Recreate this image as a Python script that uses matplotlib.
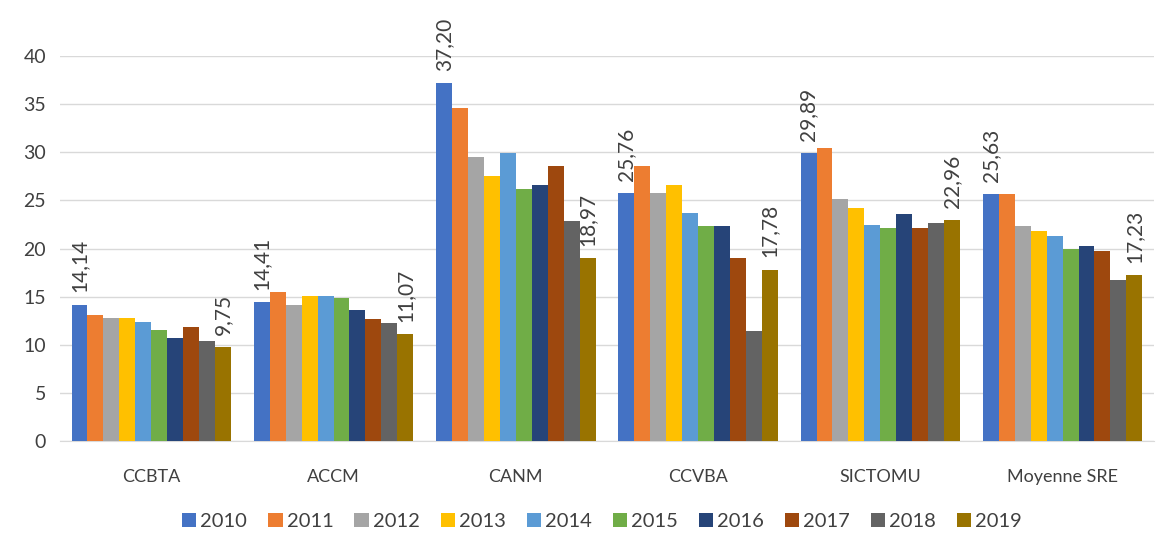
import numpy as np
import matplotlib
matplotlib.use("Agg")
import matplotlib.pyplot as plt
from matplotlib.patches import Patch

plt.rcParams['font.family'] = ['Lato', 'DejaVu Sans']

groups = ['CCBTA', 'ACCM', 'CANM', 'CCVBA', 'SICTOMU', 'Moyenne SRE']
years = ['2010', '2011', '2012', '2013', '2014', '2015', '2016', '2017', '2018', '2019']

# one list per year, values per group in the order above
v2010 = [14.14, 14.41, 37.20, 25.76, 29.89, 25.63]
v2011 = [13.1, 15.5, 34.6, 28.6, 30.4, 25.63]
v2012 = [12.75, 14.1, 29.5, 25.76, 25.2, 22.3]
v2013 = [12.75, 15.05, 27.5, 26.6, 24.2, 21.8]
v2014 = [12.4, 15.1, 29.9, 23.7, 22.4, 21.26]
v2015 = [11.55, 14.9, 26.2, 22.3, 22.1, 20.0]
v2016 = [10.7, 13.6, 26.6, 22.3, 23.6, 20.26]
v2017 = [11.8, 12.7, 28.6, 19.0, 22.1, 19.75]
v2018 = [10.4, 12.3, 22.9, 11.45, 22.65, 16.76]
v2019 = [9.75, 11.07, 18.97, 17.78, 22.96, 17.23]

series = [v2010, v2011, v2012, v2013, v2014, v2015, v2016, v2017, v2018, v2019]
colors = ['#4472C4', '#ED7D31', '#A5A5A5', '#FFC000', '#5B9BD5',
          '#70AD47', '#264478', '#9E480E', '#636363', '#997300']

fig = plt.figure(figsize=(11.56, 5.35), dpi=100)
ax = fig.add_axes([0.052, 0.176, 0.946, 0.719])

x = np.arange(len(groups))
n = len(series)
w = 0.0875
for i, (vals, c) in enumerate(zip(series, colors)):
    pos = x + (i - (n - 1) / 2) * w
    ax.bar(pos, vals, width=w, color=c, zorder=3, label=years[i])
    # Excel style labels only on first and last year
    if i == 0 or i == n - 1:
        for px, v in zip(pos, vals):
            ax.annotate(f'{v:.2f}'.replace('.', ','), (px, v), xytext=(0, 9),
                        textcoords='offset points', rotation=90,
                        ha='center', va='bottom', fontsize=15,
                        color='#404040', annotation_clip=False)

ax.set_ylim(0, 40)
ax.set_xlim(-0.5, len(groups) - 0.5)
ax.set_yticks(range(0, 41, 5))
ax.set_xticks(x)
ax.set_xticklabels(groups)
ax.tick_params(axis='y', length=0, labelsize=14, colors='#404040', pad=10)
ax.tick_params(axis='x', length=0, labelsize=13, colors='#404040', pad=20)
ax.grid(axis='y', color='#d9d9d9', linewidth=1, zorder=0)
for s in ['top', 'right', 'left']:
    ax.spines[s].set_visible(False)
ax.spines['bottom'].set_color('#d9d9d9')

handles = [Patch(facecolor=c, label=y) for c, y in zip(colors, years)]
fig.legend(handles=handles, loc='lower center', ncol=10, frameon=False,
           fontsize=14.5, handlelength=0.7, handleheight=0.7, handletextpad=0.2,
           columnspacing=1.05, bbox_to_anchor=(0.521, -0.025),
           labelcolor='#404040')

fig.savefig('out.png', dpi=100)
